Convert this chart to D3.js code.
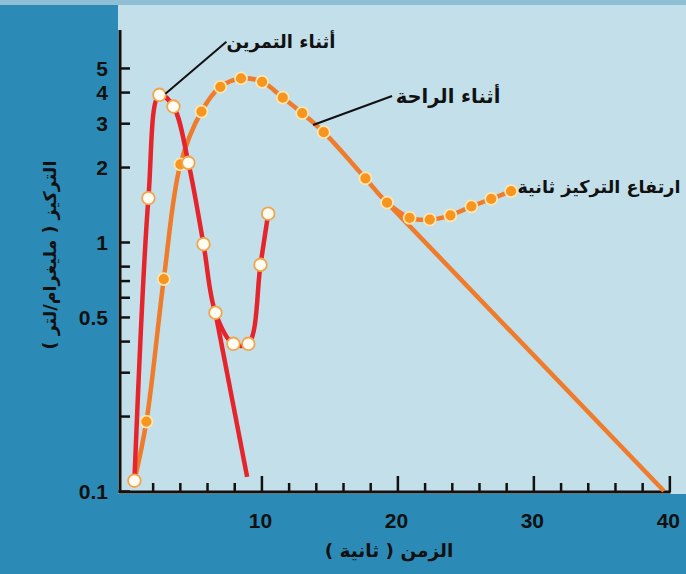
<!DOCTYPE html>
<html>
<head>
<meta charset="utf-8">
<script src="https://cdn.jsdelivr.net/npm/d3@7/dist/d3.min.js"></script>
<style>
  html, body { margin: 0; padding: 0; background: #2c8bb6; }
  svg { display: block; }
  .num { font-family: "Liberation Sans", Arial, sans-serif; font-weight: bold; fill: #111; }
  .ar { font-family: "DejaVu Sans", sans-serif; font-weight: bold; fill: #111; }
</style>
</head>
<body>
<svg id="chart" width="686" height="574"></svg>
<script>
// Concentration (mg/L) against time (s), log scale
const yTickValues = [5, 4, 3, 2, 1, 0.5, 0.1];
const yMinorValues = [0.8, 0.7, 0.6, 0.4, 0.3, 0.2];
const xTickValues = [10, 20, 30, 40];
const xMinorValues = [2, 4, 6, 8, 12, 14, 16, 18, 22, 24, 26, 28, 32, 34, 36, 38];

// During exercise
const exerciseTime = [0.66, 1.69, 2.5, 3.53, 4.63, 5.74, 6.62, 7.94, 9.04, 9.93, 10.5];
const exerciseConc = [0.11, 1.5, 3.9, 3.5, 2.08, 0.98, 0.52, 0.39, 0.39, 0.81, 1.3];
// Exercise curve continuing to fall
const exerciseFallTime = [6.62, 8.95];
const exerciseFallConc = [0.52, 0.114];

// During rest
const restTime = [0.66, 1.54, 2.82, 4.04, 5.59, 6.98, 8.5, 10.05, 11.57, 13.0, 14.58, 17.65, 19.24,
                  20.9, 22.38, 23.9, 25.44, 26.9, 28.36];
const restConc = [0.11, 0.19, 0.71, 2.05, 3.34, 4.2, 4.54, 4.4, 3.8, 3.29, 2.76, 1.8, 1.44,
                  1.25, 1.23, 1.28, 1.39, 1.49, 1.6];
// Rest curve continuing to fall
const restFallTime = [19.24, 39.6];
const restFallConc = [1.44, 0.1];

const labelExercise = "أثناء التمرين";
const labelRest = "أثناء الراحة";
const labelRise = "ارتفاع التركيز ثانية";
const xTitle = "الزمن ( ثانية )";
const yTitle = "التركيز ( مليغرام/لتر )";

const svg = d3.select("#chart");
const W = 686, H = 574;

// backgrounds
svg.append("rect").attr("x", 0).attr("y", 0).attr("width", W).attr("height", H).attr("fill", "#2c8bb6");
svg.append("rect").attr("x", 0).attr("y", 0).attr("width", W).attr("height", 5).attr("fill", "#8fbfd5");
svg.append("rect").attr("x", 118).attr("y", 5).attr("width", W - 118).attr("height", 489).attr("fill", "#c3dfea");

const x = d3.scaleLinear().domain([-0.4, 39.9]).range([120, 668]);
const y = d3.scaleLog().domain([0.1, 1]).range([491, 242]);

// axes
const axisG = svg.append("g");
axisG.append("line").attr("x1", 120).attr("x2", 120).attr("y1", 30).attr("y2", 493)
  .attr("stroke", "#111").attr("stroke-width", 3);
axisG.append("line").attr("x1", 118.5).attr("x2", x(40) + 1.2).attr("y1", 492).attr("y2", 492)
  .attr("stroke", "#111").attr("stroke-width", 3);

const yAxis = d3.axisRight(y).tickValues(yTickValues.concat(yMinorValues)).tickSize(10).tickFormat("");
const yg = svg.append("g").attr("transform", "translate(120,0)").call(yAxis);
yg.select(".domain").remove();
yg.selectAll(".tick line").attr("stroke", "#111").attr("stroke-width", 2.5);

svg.append("g").selectAll("text").data(yTickValues).join("text")
  .attr("class", "num").attr("x", 108).attr("y", d => y(d)).attr("dy", "0.36em")
  .attr("text-anchor", "end").attr("font-size", 21).text(d => d);

const xMajor = d3.axisTop(x).tickValues(xTickValues).tickSize(16).tickFormat("");
const xg1 = svg.append("g").attr("transform", "translate(0,492)").call(xMajor);
xg1.select(".domain").remove();
xg1.selectAll(".tick line").attr("stroke", "#111").attr("stroke-width", 2.5);
const xMinor = d3.axisTop(x).tickValues(xMinorValues).tickSize(9).tickFormat("");
const xg2 = svg.append("g").attr("transform", "translate(0,492)").call(xMinor);
xg2.select(".domain").remove();
xg2.selectAll(".tick line").attr("stroke", "#111").attr("stroke-width", 2.5);

svg.append("g").selectAll("text").data(xTickValues).join("text")
  .attr("class", "num").attr("x", d => x(d) - 1).attr("y", 528)
  .attr("text-anchor", "middle").attr("font-size", 21).text(d => d);

// axis titles
svg.append("text").attr("class", "ar").attr("x", 389).attr("y", 557)
  .attr("text-anchor", "middle").attr("font-size", 18.5).attr("direction", "rtl").text(xTitle);
svg.append("text").attr("class", "ar")
  .attr("transform", "translate(56,255) rotate(-90)")
  .attr("text-anchor", "middle").attr("font-size", 17.5).attr("direction", "rtl").text(yTitle);

// series
const pts = (ts, cs) => ts.map((t, i) => [t, cs[i]]);
const smooth = d3.line().x(d => x(d[0])).y(d => y(d[1])).curve(d3.curveCatmullRom.alpha(0.5));
const straight = d3.line().x(d => x(d[0])).y(d => y(d[1]));

const RED = "#e5242c", ORANGE = "#ef7b2b";

svg.append("path").attr("d", straight(pts(restFallTime, restFallConc)))
  .attr("fill", "none").attr("stroke", ORANGE).attr("stroke-width", 4.5);
svg.append("path").attr("d", smooth(pts(restTime, restConc)))
  .attr("fill", "none").attr("stroke", ORANGE).attr("stroke-width", 4.5);
svg.append("path").attr("d", straight(pts(exerciseFallTime, exerciseFallConc)))
  .attr("fill", "none").attr("stroke", RED).attr("stroke-width", 4.5);
svg.append("path").attr("d", smooth(pts(exerciseTime, exerciseConc)))
  .attr("fill", "none").attr("stroke", RED).attr("stroke-width", 4.5);

svg.append("g").selectAll("circle").data(pts(restTime, restConc).slice(1)).join("circle")
  .attr("cx", d => x(d[0])).attr("cy", d => y(d[1])).attr("r", 6)
  .attr("fill", "#f6951f").attr("stroke", "#fde6b0").attr("stroke-width", 1.8);
svg.append("g").selectAll("circle").data(pts(exerciseTime, exerciseConc)).join("circle")
  .attr("cx", d => x(d[0])).attr("cy", d => y(d[1])).attr("r", 6.3)
  .attr("fill", "#fffdf3").attr("stroke", "#f2a54a").attr("stroke-width", 1.8);

// annotations
const peakX = x(exerciseTime[2]), peakY = y(exerciseConc[2]);
svg.append("line").attr("x1", peakX + 6).attr("y1", peakY - 1).attr("x2", peakX + 67).attr("y2", peakY - 53)
  .attr("stroke", "#111").attr("stroke-width", 2);
svg.append("text").attr("class", "ar").attr("x", 281).attr("y", 48)
  .attr("text-anchor", "middle").attr("font-size", 18).attr("direction", "rtl").text(labelExercise);

const restPtX = x(13.8), restPtY = y(2.95);
svg.append("line").attr("x1", restPtX).attr("y1", restPtY).attr("x2", restPtX + 79).attr("y2", restPtY - 29)
  .attr("stroke", "#111").attr("stroke-width", 2);
svg.append("text").attr("class", "ar").attr("x", 448).attr("y", 103)
  .attr("text-anchor", "middle").attr("font-size", 19.5).attr("direction", "rtl").text(labelRest);

svg.append("text").attr("class", "ar").attr("x", 599).attr("y", 193)
  .attr("text-anchor", "middle").attr("font-size", 17.6).attr("direction", "rtl").text(labelRise);
</script>
</body>
</html>
